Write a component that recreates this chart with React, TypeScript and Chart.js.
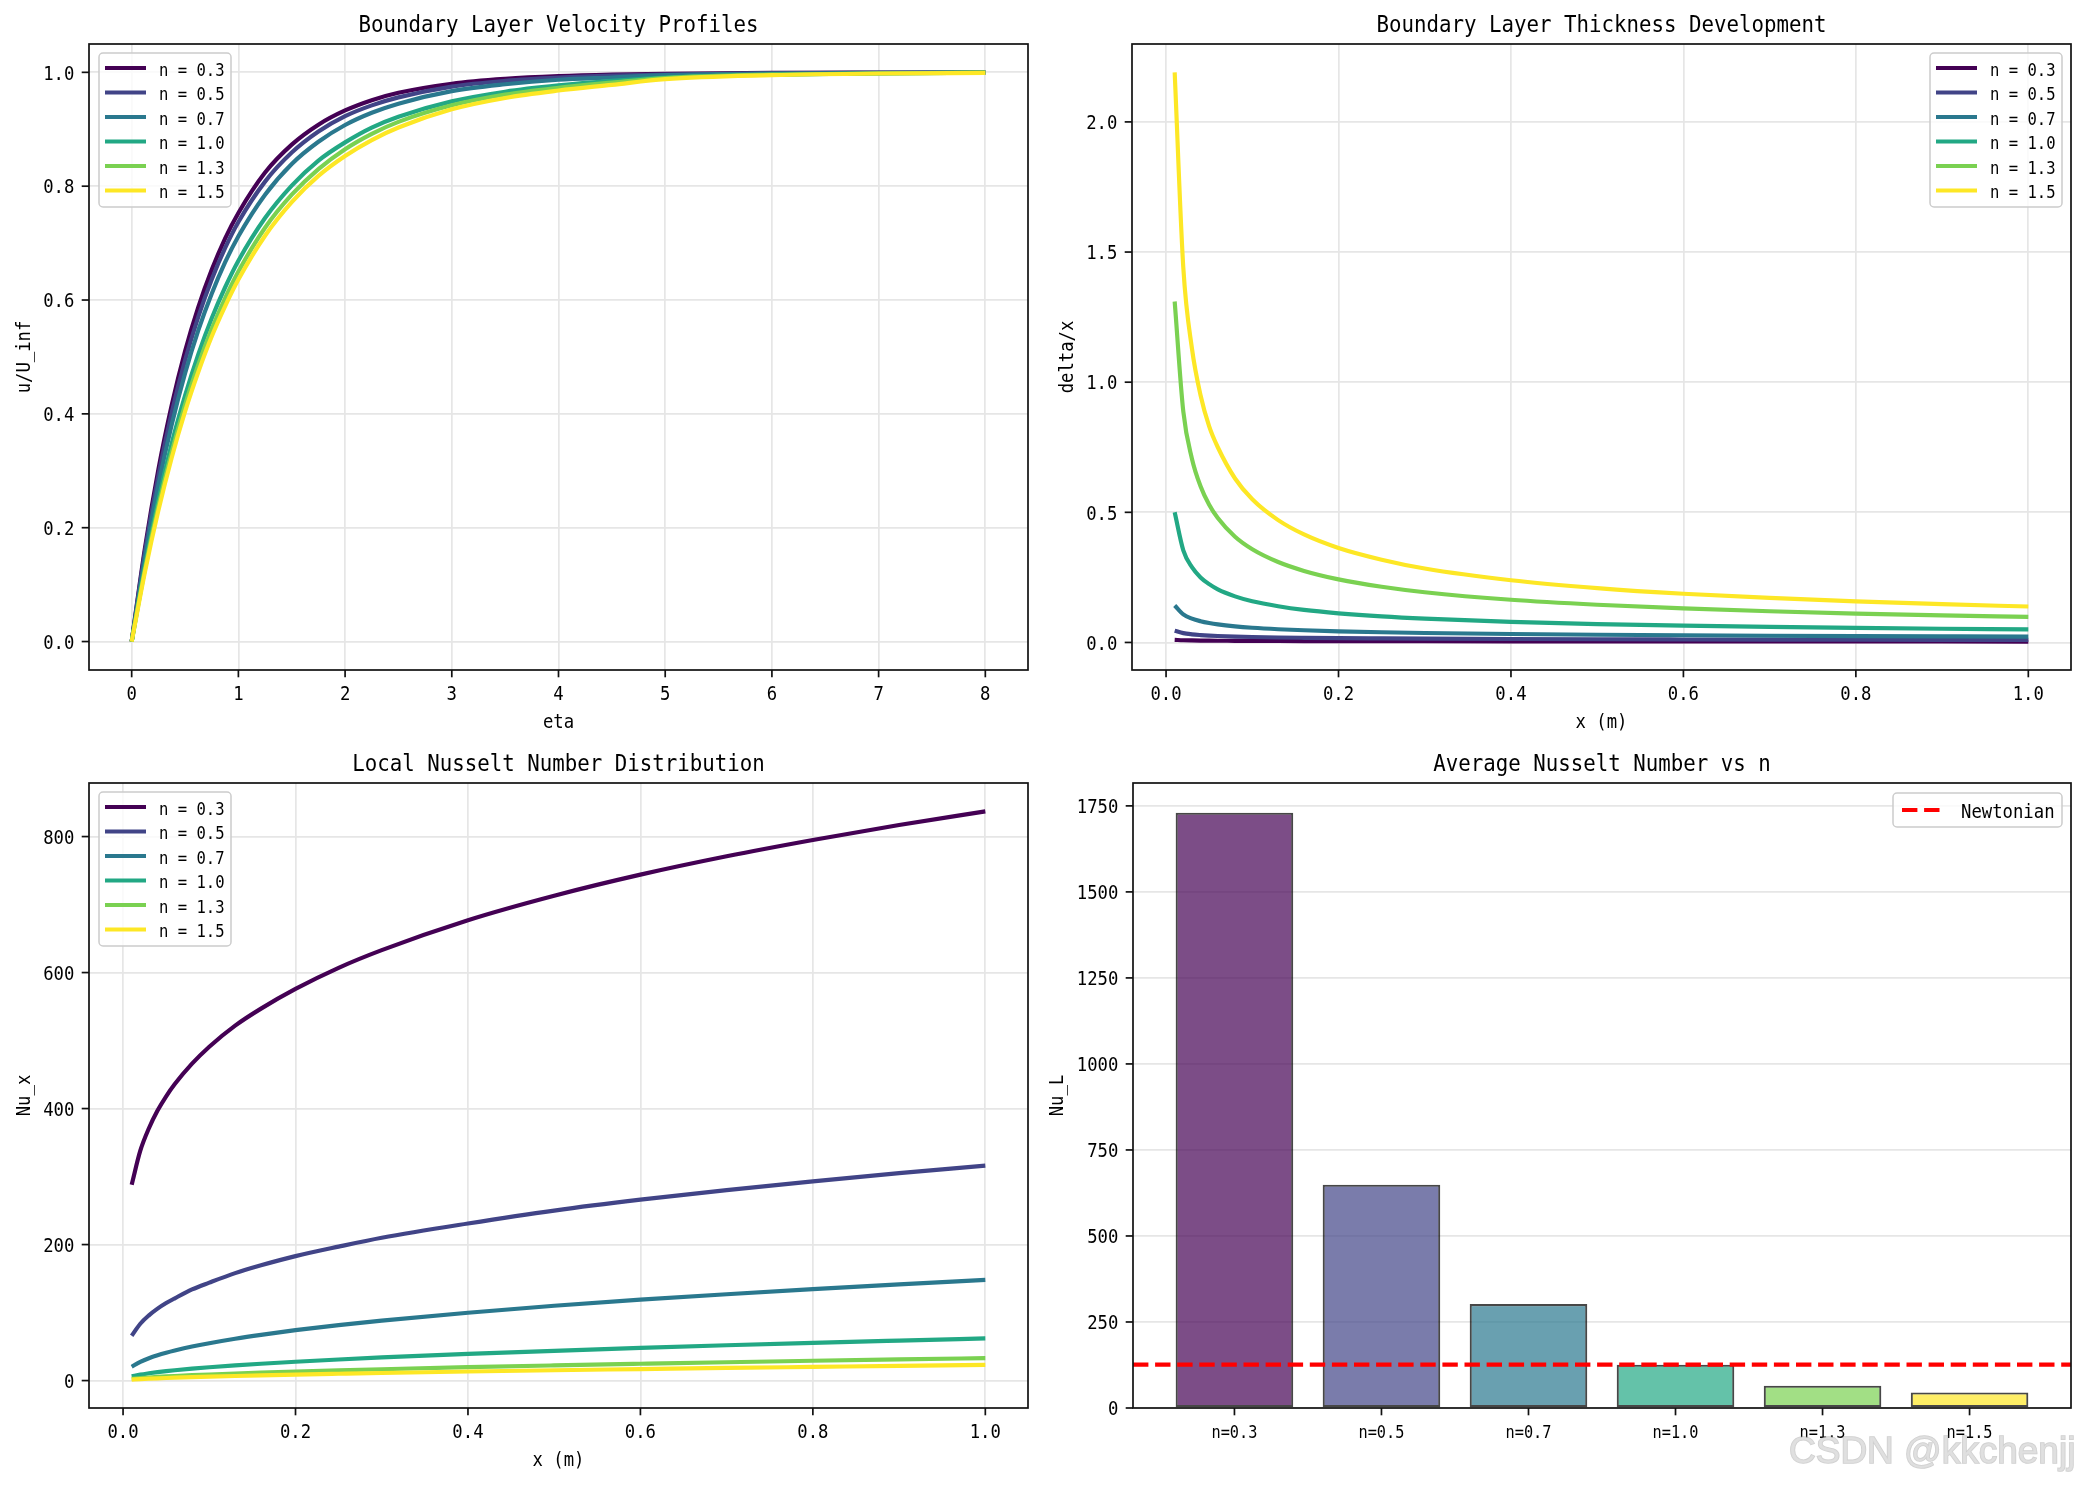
import React, { useEffect, useRef } from "react";
import { Chart, registerables } from "chart.js";
Chart.register(...registerables);

const W = 2085;
const H = 1485;

// ---------- data ----------
const seriesLabels = ["n = 0.3", "n = 0.5", "n = 0.7", "n = 1.0", "n = 1.3", "n = 1.5"];
const seriesColors = ["#440154", "#414487", "#2a788e", "#22a884", "#7ad151", "#fde725"];

const etaValues = [0, 0.125, 0.25, 0.375, 0.5, 0.625, 0.75, 0.875, 1, 1.25, 1.5, 1.75, 2, 2.25, 2.5, 3, 3.5, 4, 4.5, 5, 6, 7, 8];
const velN03 = [0, 0.165, 0.302, 0.415, 0.51, 0.588, 0.653, 0.708, 0.753, 0.824, 0.873, 0.908, 0.933, 0.951, 0.964, 0.98, 0.9885, 0.9933, 0.996, 0.9975, 0.999, 0.9995, 0.9998];
const velN05 = [0, 0.159, 0.291, 0.402, 0.494, 0.571, 0.636, 0.691, 0.737, 0.808, 0.859, 0.896, 0.923, 0.942, 0.956, 0.975, 0.985, 0.9907, 0.9942, 0.9962, 0.9983, 0.9991, 0.9995];
const velN07 = [0, 0.149, 0.275, 0.381, 0.471, 0.547, 0.611, 0.666, 0.712, 0.785, 0.839, 0.878, 0.9075, 0.929, 0.945, 0.967, 0.979, 0.987, 0.991, 0.995, 0.998, 0.999, 1.0];
const velN10 = [0, 0.134, 0.249, 0.348, 0.432, 0.505, 0.568, 0.622, 0.669, 0.744, 0.801, 0.845, 0.877, 0.903, 0.922, 0.949, 0.966, 0.977, 0.985, 0.991, 0.996, 0.998, 0.9995];
const velN13 = [0, 0.128, 0.238, 0.333, 0.416, 0.487, 0.549, 0.603, 0.65, 0.727, 0.785, 0.83, 0.865, 0.892, 0.913, 0.942, 0.961, 0.973, 0.982, 0.99, 0.996, 0.998, 0.9995];
const velN15 = [0, 0.123, 0.23, 0.323, 0.404, 0.474, 0.536, 0.589, 0.636, 0.713, 0.772, 0.818, 0.853, 0.881, 0.903, 0.935, 0.955, 0.968, 0.978, 0.988, 0.995, 0.998, 0.999];

const xPositions = [0.01, 0.02, 0.03, 0.04, 0.05, 0.06, 0.08, 0.1, 0.13, 0.16, 0.2, 0.25, 0.3, 0.4, 0.5, 0.6, 0.7, 0.8, 0.9, 1.0];
const deltaN03 = [0.0101, 0.0086, 0.0078, 0.0073, 0.007, 0.0067, 0.0063, 0.0059, 0.0056, 0.0053, 0.0051, 0.0048, 0.0046, 0.0043, 0.0041, 0.0039, 0.0038, 0.0037, 0.0036, 0.0035];
const deltaN05 = [0.045, 0.0357, 0.0312, 0.0284, 0.0263, 0.0248, 0.0225, 0.0209, 0.0191, 0.0179, 0.0166, 0.0154, 0.0145, 0.0132, 0.0122, 0.0115, 0.0109, 0.0104, 0.01, 0.0097];
const deltaN07 = [0.142, 0.1076, 0.0915, 0.0816, 0.0746, 0.0693, 0.0618, 0.0565, 0.0509, 0.0468, 0.0428, 0.0392, 0.0364, 0.0325, 0.0297, 0.0276, 0.0259, 0.0246, 0.0235, 0.0225];
const deltaN10 = [0.5, 0.354, 0.289, 0.25, 0.224, 0.204, 0.177, 0.158, 0.139, 0.125, 0.112, 0.1, 0.0913, 0.079, 0.0707, 0.0645, 0.0598, 0.0559, 0.0527, 0.05];
const deltaN13 = [1.31, 0.887, 0.706, 0.6, 0.529, 0.478, 0.406, 0.358, 0.309, 0.275, 0.2425, 0.214, 0.193, 0.164, 0.145, 0.131, 0.12, 0.111, 0.104, 0.098];
const deltaN15 = [2.19, 1.44, 1.13, 0.95, 0.83, 0.75, 0.63, 0.55, 0.47, 0.415, 0.363, 0.318, 0.284, 0.239, 0.209, 0.187, 0.171, 0.158, 0.147, 0.138];

const nuN03 = [288, 338, 371, 397, 418, 436, 466, 491, 522, 547, 576, 607, 633, 677, 713, 744, 771, 795, 817, 837];
const nuN05 = [66, 83.6, 95.9, 105.8, 114, 121, 134, 144, 158, 169.5, 183, 197, 210, 231, 250, 266, 280, 293, 305, 316];
const nuN07 = [20.4, 27.5, 32.8, 37.1, 40.8, 44.1, 50, 55, 61.6, 67.3, 74.1, 81.5, 88.2, 99.8, 110, 119, 127, 134.5, 141.4, 148];
const nuN10 = [6.2, 8.77, 10.7, 12.4, 13.9, 15.2, 17.5, 19.6, 22.4, 24.8, 27.7, 31, 34, 39.2, 43.8, 48, 51.9, 55.5, 58.8, 62];
const nuN13 = [2.45, 3.62, 4.55, 5.35, 6.07, 6.74, 7.92, 8.99, 10.4, 11.7, 13.3, 15.1, 16.7, 19.7, 22.3, 24.7, 27, 29.1, 31.1, 33];
const nuN15 = [1.45, 2.2, 2.8, 3.33, 3.82, 4.25, 5.06, 5.78, 6.76, 7.66, 8.76, 10, 11.2, 13.3, 15.2, 16.9, 18.6, 20.1, 21.6, 23];

const barCategories = ["n=0.3", "n=0.5", "n=0.7", "n=1.0", "n=1.3", "n=1.5"];
const averageNu = [1730, 649, 302, 126, 65, 45];
const newtonianNu = 126;

const etaTicks = [0, 1, 2, 3, 4, 5, 6, 7, 8];
const etaTickLabels = ["0", "1", "2", "3", "4", "5", "6", "7", "8"];
const velTicks = [0, 0.2, 0.4, 0.6, 0.8, 1.0];
const velTickLabels = ["0.0", "0.2", "0.4", "0.6", "0.8", "1.0"];
const xmTicks = [0, 0.2, 0.4, 0.6, 0.8, 1.0];
const xmTickLabels = ["0.0", "0.2", "0.4", "0.6", "0.8", "1.0"];
const deltaTicks = [0, 0.5, 1.0, 1.5, 2.0];
const deltaTickLabels = ["0.0", "0.5", "1.0", "1.5", "2.0"];
const nuTicks = [0, 200, 400, 600, 800];
const nuTickLabels = ["0", "200", "400", "600", "800"];
const barIdxTicks = [0, 1, 2, 3, 4, 5];
const avgTicks = [0, 250, 500, 750, 1000, 1250, 1500, 1750];
const avgTickLabels = ["0", "250", "500", "750", "1000", "1250", "1500", "1750"];

// ---------- styling ----------
const MONO = '"DejaVu Sans Mono", "Liberation Mono", monospace';
const SX = 0.874;
const GRID = "#e6e6e6";
const LW = 4.17;

function drawText(
  ctx: CanvasRenderingContext2D,
  s: string,
  x: number,
  y: number,
  size: number,
  align: CanvasTextAlign,
  baseline: CanvasTextBaseline = "alphabetic",
  rot = 0
) {
  ctx.save();
  ctx.translate(x, y);
  if (rot) ctx.rotate(rot);
  ctx.scale(SX, 1);
  ctx.font = `${size * 0.95}px ${MONO}`;
  ctx.textAlign = align;
  ctx.textBaseline = baseline;
  ctx.fillStyle = "#000";
  ctx.fillText(s, 0, 0);
  ctx.restore();
}

type LegendItem = { label: string; color: string; dash?: number[] };
type LegendSpec = {
  x: number; y: number; w: number; h: number;
  items: LegendItem[]; size: number; firstRow: number; rowH: number;
  hx0: number; hx1: number; tx: number;
};
type Panel = {
  area: { l: number; t: number; r: number; b: number };
  title: string; xLabel: string; yLabel: string;
  xTicks: number[]; xTickLabels: string[]; xTickSize: number;
  yTicks: number[]; yTickLabels: string[];
  legend: LegendSpec;
  hline?: number;
  watermark?: boolean;
};

function decorPlugin(p: Panel, id: string) {
  return {
    id,
    afterDatasetsDraw(chart: any) {
      const ctx: CanvasRenderingContext2D = chart.ctx;
      const { left, top, right, bottom } = chart.chartArea;
      const xs = chart.scales.x;
      const ys = chart.scales.y;
      ctx.save();
      if (p.hline !== undefined) {
        const y = ys.getPixelForValue(p.hline);
        ctx.strokeStyle = "#ff0000";
        ctx.lineWidth = LW;
        ctx.setLineDash([15.4, 6.7]);
        ctx.beginPath();
        ctx.moveTo(left, y);
        ctx.lineTo(right, y);
        ctx.stroke();
        ctx.setLineDash([]);
      }
      // spines
      ctx.strokeStyle = "#111";
      ctx.lineWidth = 1.7;
      ctx.strokeRect(left, top, right - left, bottom - top);
      // ticks
      p.xTicks.forEach((v, i) => {
        const px = xs.getPixelForValue(v);
        ctx.beginPath();
        ctx.moveTo(px, bottom);
        ctx.lineTo(px, bottom + 7.3);
        ctx.stroke();
        drawText(ctx, p.xTickLabels[i], px, bottom + 29.5, p.xTickSize, "center");
      });
      let maxW = 0;
      p.yTicks.forEach((v, i) => {
        const py = ys.getPixelForValue(v);
        ctx.beginPath();
        ctx.moveTo(left - 7.3, py);
        ctx.lineTo(left, py);
        ctx.stroke();
        drawText(ctx, p.yTickLabels[i], left - 14.6, py + 7.2, 20.8, "right");
        maxW = Math.max(maxW, p.yTickLabels[i].length * 10.4);
      });
      // axis labels
      if (p.xLabel) drawText(ctx, p.xLabel, (left + right) / 2, bottom + 58, 20.8, "center");
      drawText(ctx, p.yLabel, left - 14.6 - maxW - 8.3 - 10.4, (top + bottom) / 2, 20.8, "center", "middle", -Math.PI / 2);
      // title
      drawText(ctx, p.title, (left + right) / 2, top - 12, 25, "center");
      // legend
      const L = p.legend;
      ctx.beginPath();
      (ctx as any).roundRect(L.x, L.y, L.w, L.h, 4);
      ctx.fillStyle = "rgba(255,255,255,0.8)";
      ctx.fill();
      ctx.strokeStyle = "#cccccc";
      ctx.lineWidth = 1.5;
      ctx.stroke();
      L.items.forEach((it, i) => {
        const cy = L.y + L.firstRow + i * L.rowH;
        ctx.strokeStyle = it.color;
        ctx.lineWidth = LW;
        ctx.setLineDash(it.dash || []);
        ctx.beginPath();
        ctx.moveTo(L.x + L.hx0, cy);
        ctx.lineTo(L.x + L.hx1, cy);
        ctx.stroke();
        ctx.setLineDash([]);
        drawText(ctx, it.label, L.x + L.tx, cy + L.size * 0.4, L.size, "left");
      });
      ctx.restore();
    },
    afterDraw(chart: any) {
      if (!p.watermark) return;
      const ctx: CanvasRenderingContext2D = chart.ctx;
      ctx.save();
      ctx.font = '37px "Liberation Sans", Arial, sans-serif';
      ctx.textAlign = "left";
      ctx.textBaseline = "alphabetic";
      ctx.lineWidth = 1.5;
      ctx.strokeStyle = "rgba(160,160,160,0.5)";
      ctx.strokeText("CSDN @kkchenjj", 1789, 1463);
      ctx.fillStyle = "rgba(222,222,222,0.95)";
      ctx.fillText("CSDN @kkchenjj", 1789, 1463);
      ctx.restore();
    },
  };
}

function range(vals: number[], lowZero = false): [number, number] {
  const lo = lowZero ? 0 : Math.min(...vals);
  const hi = Math.max(...vals);
  const m = (hi - lo) * 0.05;
  return [lowZero ? 0 : lo - m, hi + m];
}

function scaleCfg(minmax: [number, number], ticks: number[], horizontal: boolean, grid = true) {
  return {
    type: "linear",
    min: minmax[0],
    max: minmax[1],
    offset: false,
    afterBuildTicks: (s: any) => {
      s.ticks = ticks.map((v) => ({ value: v }));
    },
    afterFit: (s: any) => {
      if (horizontal) s.height = 0;
      else s.width = 0;
    },
    ticks: { display: false },
    grid: { display: grid, color: GRID, lineWidth: 1.7, drawTicks: false, offset: false },
    border: { display: false },
  };
}

function lineDatasets(xv: number[], series: number[][]) {
  return series.map((arr, i) => ({
    label: seriesLabels[i],
    data: arr.map((y, j) => ({ x: xv[j], y })),
    borderColor: seriesColors[i],
    backgroundColor: seriesColors[i],
    borderWidth: LW,
    pointRadius: 0,
    fill: false,
    cubicInterpolationMode: "monotone",
    borderJoinStyle: "round",
    order: series.length - i,
  }));
}

function baseOptions(a: Panel["area"]) {
  return {
    responsive: false,
    animation: false,
    devicePixelRatio: 1,
    events: [],
    layout: { autoPadding: false, padding: { left: a.l, top: a.t, right: W - a.r, bottom: H - a.b } },
    plugins: { legend: { display: false }, title: { display: false }, tooltip: { enabled: false } },
  };
}

const lineLegendItems: LegendItem[] = seriesLabels.map((l, i) => ({ label: l, color: seriesColors[i] }));
function lineLegend(x: number, y: number): LegendSpec {
  return { x, y, w: 132, h: 154, items: lineLegendItems, size: 18.75, firstRow: 15, rowH: 24.5, hx0: 6, hx1: 47, tx: 60 };
}

const panelTL: Panel = {
  area: { l: 89, t: 44, r: 1028, b: 670 },
  title: "Boundary Layer Velocity Profiles", xLabel: "eta", yLabel: "u/U_inf",
  xTicks: etaTicks, xTickLabels: etaTickLabels, xTickSize: 20.8,
  yTicks: velTicks, yTickLabels: velTickLabels,
  legend: lineLegend(99, 53),
};
const panelTR: Panel = {
  area: { l: 1132, t: 44, r: 2071, b: 670 },
  title: "Boundary Layer Thickness Development", xLabel: "x (m)", yLabel: "delta/x",
  xTicks: xmTicks, xTickLabels: xmTickLabels, xTickSize: 20.8,
  yTicks: deltaTicks, yTickLabels: deltaTickLabels,
  legend: lineLegend(1930, 53),
};
const panelBL: Panel = {
  area: { l: 89, t: 783, r: 1028, b: 1408 },
  title: "Local Nusselt Number Distribution", xLabel: "x (m)", yLabel: "Nu_x",
  xTicks: xmTicks, xTickLabels: xmTickLabels, xTickSize: 20.8,
  yTicks: nuTicks, yTickLabels: nuTickLabels,
  legend: lineLegend(99, 792),
};
const panelBR: Panel = {
  area: { l: 1133, t: 783, r: 2071, b: 1408 },
  title: "Average Nusselt Number vs n", xLabel: "", yLabel: "Nu_L",
  xTicks: barIdxTicks, xTickLabels: barCategories, xTickSize: 18.4,
  yTicks: avgTicks, yTickLabels: avgTickLabels,
  legend: {
    x: 1893, y: 793, w: 169, h: 34, size: 20.8, firstRow: 17, rowH: 0, hx0: 9, hx1: 49, tx: 68,
    items: [{ label: "Newtonian", color: "#ff0000", dash: [15.4, 6.7] }],
  },
  hline: newtonianNu,
  watermark: true,
};

function hexToRgba(hex: string, a: number) {
  const n = parseInt(hex.slice(1), 16);
  return `rgba(${(n >> 16) & 255},${(n >> 8) & 255},${n & 255},${a})`;
}

function buildTL() {
  return {
    type: "line",
    data: { datasets: lineDatasets(etaValues, [velN03, velN05, velN07, velN10, velN13, velN15]) },
    options: {
      ...baseOptions(panelTL.area),
      scales: {
        x: scaleCfg(range(etaValues), etaTicks, true),
        y: scaleCfg(range([...velN03, ...velN15]), velTicks, false),
      },
    },
    plugins: [decorPlugin(panelTL, "decorTL")],
  };
}
function buildTR() {
  const all = [deltaN03, deltaN05, deltaN07, deltaN10, deltaN13, deltaN15];
  return {
    type: "line",
    data: { datasets: lineDatasets(xPositions, all) },
    options: {
      ...baseOptions(panelTR.area),
      scales: {
        x: scaleCfg(range(xPositions), xmTicks, true),
        y: scaleCfg(range(all.flat()), deltaTicks, false),
      },
    },
    plugins: [decorPlugin(panelTR, "decorTR")],
  };
}
function buildBL() {
  const all = [nuN03, nuN05, nuN07, nuN10, nuN13, nuN15];
  return {
    type: "line",
    data: { datasets: lineDatasets(xPositions, all) },
    options: {
      ...baseOptions(panelBL.area),
      scales: {
        x: scaleCfg(range(xPositions), xmTicks, true),
        y: scaleCfg(range(all.flat()), nuTicks, false),
      },
    },
    plugins: [decorPlugin(panelBL, "decorBL")],
  };
}
function buildBR() {
  const idx = barCategories.map((_, i) => i);
  const xr = range([idx[0] - 0.4, idx[idx.length - 1] + 0.4]);
  return {
    type: "bar",
    data: {
      datasets: [
        {
          data: averageNu.map((v, i) => ({ x: i, y: v })),
          backgroundColor: seriesColors.map((c) => hexToRgba(c, 0.7)),
          borderColor: "rgba(0,0,0,0.72)",
          borderWidth: 2.1,
          borderSkipped: false,
          barPercentage: 0.8,
          categoryPercentage: 1.0,
        },
      ],
    },
    options: {
      ...baseOptions(panelBR.area),
      scales: {
        x: scaleCfg(xr, barIdxTicks, true, false),
        y: scaleCfg(range(averageNu, true), avgTicks, false),
      },
    },
    plugins: [decorPlugin(panelBR, "decorBR")],
  };
}

function ChartCanvas({ build }: { build: () => any }) {
  const ref = useRef<HTMLCanvasElement>(null);
  useEffect(() => {
    const chart = new Chart(ref.current as HTMLCanvasElement, build());
    return () => chart.destroy();
  }, []);
  return (
    <canvas
      ref={ref}
      width={W}
      height={H}
      style={{ position: "absolute", left: 0, top: 0, width: W, height: H }}
    />
  );
}

export default function App() {
  return (
    <div style={{ position: "absolute", left: 0, top: 0, width: W, height: H, background: "#fff", overflow: "hidden" }}>
      <ChartCanvas build={buildTL} />
      <ChartCanvas build={buildTR} />
      <ChartCanvas build={buildBL} />
      <ChartCanvas build={buildBR} />
    </div>
  );
}
